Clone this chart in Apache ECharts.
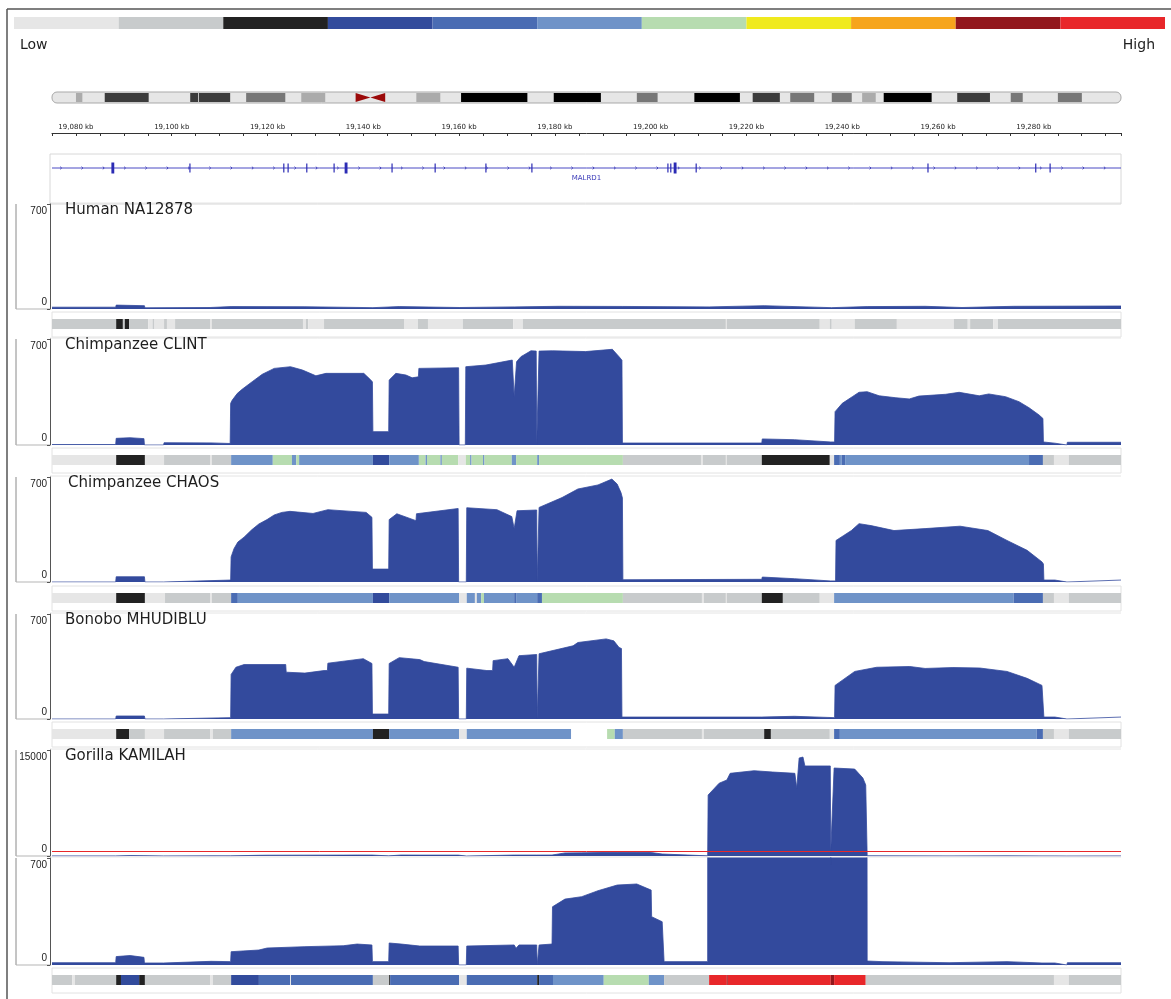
<!DOCTYPE html>
<html>
<head>
<meta charset="utf-8">
<title>MALRD1 coverage</title>
<script src="https://cdn.jsdelivr.net/npm/echarts@6/dist/echarts.min.js"></script>
<style>
  html, body { margin: 0; padding: 0; background: #fff; }
  #chart { width: 1171px; height: 999px; }
</style>
</head>
<body>
<div id="chart"></div>
<script>
// colour scale, low -> high
const levelColors = ['#e6e6e6', '#c8cbcc', '#222222', '#324b9c', '#4a6cb3', '#6f93c8',
                     '#b7dcb0', '#f0ea1e', '#f6a51c', '#92171c', '#e8272a'];

// chr10 ideogram bands [start Mb, end Mb, stain]
const chromLength = 133.8;
const ideogramBands = [
  [3.0, 3.8, 'gpos25'], [6.6, 12.1, 'gpos75'], [17.3, 18.3, 'gpos75'], [18.4, 22.3, 'gpos75'],
  [24.3, 29.2, 'gpos50'], [31.2, 34.2, 'gpos25'], [38.0, 41.7, 'acen'], [45.6, 48.6, 'gpos25'],
  [51.2, 59.5, 'gpos100'], [62.8, 68.7, 'gpos100'], [73.2, 75.8, 'gpos50'], [80.4, 86.1, 'gpos100'],
  [87.7, 91.1, 'gpos75'], [92.4, 95.4, 'gpos50'], [97.6, 100.1, 'gpos50'], [101.4, 103.1, 'gpos25'],
  [104.1, 110.1, 'gpos100'], [113.3, 117.4, 'gpos75'], [120.0, 121.5, 'gpos50'], [125.9, 128.9, 'gpos50']
];
const stainColors = { gpos100: '#000000', gpos75: '#3c3c3c', gpos50: '#777777', gpos25: '#ababab', acen: '#9b0a0a' };

// visible window, kb
const viewStart = 19075, viewEnd = 19298.2;

// gene
const geneName = 'MALRD1';
const geneExons = [
  [19087.4, 19088.0], [19103.7, 19103.9], [19123.3, 19123.5], [19124.2, 19124.4], [19128.1, 19128.3],
  [19133.8, 19134.0], [19136.1, 19136.7], [19145.9, 19146.1], [19154.9, 19155.1], [19165.5, 19165.7],
  [19175.1, 19175.3], [19203.5, 19203.7], [19204.1, 19204.3], [19204.8, 19205.4], [19209.4, 19209.6],
  [19257.8, 19258.0], [19280.3, 19280.5], [19283.3, 19283.5]
];

// read depth [kb, depth]
const human = [
  [19075, 12], [19088.3, 12], [19088.4, 26], [19094.3, 22], [19094.4, 8], [19108.0, 10], [19112.4, 16],
  [19127.8, 15], [19142.0, 9], [19147.5, 16], [19160.0, 10], [19171.5, 14], [19180.9, 18], [19194.2, 17],
  [19212.2, 14], [19223.7, 22], [19237.8, 9], [19245.2, 16], [19257.3, 18], [19265.0, 10], [19275.8, 18], [19298.2, 20]
];
const clint = [
  [19075, 3], [19088.3, 3], [19088.4, 44], [19091.3, 48], [19094.2, 42], [19094.3, 0], [19098.3, 0], [19098.4, 15],
  [19108.2, 14], [19112.2, 10], [19112.3, 275], [19112.65, 297], [19113.7, 341], [19114.7, 368], [19116.8, 418],
  [19118.9, 467], [19121.4, 506], [19124.8, 517], [19127.3, 495], [19130.1, 457], [19132.2, 473], [19140.1, 473],
  [19141.2, 440], [19141.9, 418], [19142.0, 88], [19145.3, 88], [19145.4, 429], [19146.8, 473], [19148.9, 462],
  [19150.2, 444], [19151.5, 450], [19151.6, 506], [19159.9, 510], [19160.0, 0], [19161.3, 0], [19161.4, 517],
  [19165.6, 528], [19171.1, 561], [19171.5, 319], [19172.0, 550], [19172.9, 583], [19175.0, 622], [19176.1, 620],
  [19176.2, 0], [19176.6, 0], [19176.7, 620], [19179.5, 622], [19186.4, 617], [19192.0, 632], [19193.4, 583],
  [19194.0, 560], [19194.1, 13], [19223.2, 13], [19223.3, 40], [19230.0, 35], [19237.6, 20], [19238.4, 20],
  [19238.5, 220], [19240.0, 275], [19242.1, 319], [19243.5, 348], [19245.2, 352], [19247.7, 325], [19251.2, 312],
  [19254.0, 304], [19256.0, 323], [19261.6, 335], [19264.4, 348], [19268.6, 325], [19270.6, 337], [19274.1, 319],
  [19276.9, 286], [19279.0, 246], [19281.1, 198], [19281.9, 175], [19282.0, 20], [19284.4, 12], [19284.5, 0],
  [19286.9, 0], [19287.0, 18], [19298.2, 18]
];
const chaos = [
  [19075, 0], [19088.3, 0], [19088.4, 35], [19094.3, 35], [19094.4, 0], [19098.3, 0], [19098.4, 13], [19112.3, 13],
  [19112.4, 167], [19113.0, 222], [19113.8, 266], [19115.1, 299], [19116.7, 348], [19118.2, 387], [19119.9, 416],
  [19121.4, 447], [19123.0, 464], [19124.7, 471], [19129.5, 457], [19132.6, 482], [19140.6, 464], [19141.8, 431],
  [19141.9, 86], [19145.3, 86], [19145.4, 416], [19147.0, 455], [19151.0, 409], [19151.1, 455], [19159.8, 490],
  [19159.9, 0], [19161.5, 0], [19161.6, 495], [19167.9, 482], [19171.0, 436], [19171.5, 356], [19172.1, 475],
  [19176.2, 480], [19176.3, 0], [19176.6, 0], [19176.7, 497], [19181.5, 563], [19184.8, 620], [19189.0, 647],
  [19191.9, 686], [19193.0, 653], [19193.8, 596], [19194.1, 560], [19194.2, 15], [19223.2, 18], [19223.3, 33],
  [19230.0, 22], [19237.6, 7], [19238.6, 7], [19238.7, 277], [19240.3, 310], [19241.9, 343], [19243.5, 389],
  [19246.0, 376], [19250.8, 343], [19257.3, 356], [19264.6, 372], [19270.4, 343], [19274.4, 277], [19278.6, 211],
  [19281.7, 134], [19282.0, 120], [19282.1, 13], [19284.4, 13], [19284.5, 0], [19286.9, 0], [19287.0, 13], [19298.2, 13]
];
const bonobo = [
  [19075, 0], [19088.3, 0], [19088.4, 20], [19094.3, 20], [19094.4, 0], [19098.3, 0], [19098.4, 9], [19112.3, 9],
  [19112.4, 297], [19113.4, 345], [19115.1, 363], [19123.8, 363], [19123.9, 312], [19127.8, 306], [19131.8, 323],
  [19132.5, 323], [19132.6, 372], [19140.0, 402], [19141.8, 370], [19141.9, 33], [19145.3, 33], [19145.4, 370],
  [19147.5, 409], [19151.8, 396], [19152.7, 383], [19159.8, 345], [19159.9, 0], [19161.5, 0], [19161.6, 339],
  [19165.8, 323], [19167.0, 323], [19167.1, 389], [19170.2, 402], [19171.5, 345], [19172.5, 422], [19176.2, 430],
  [19176.3, 0], [19176.6, 0], [19176.7, 435], [19183.8, 488], [19184.8, 510], [19190.7, 534], [19192.3, 521],
  [19193.4, 477], [19193.9, 470], [19194.0, 13], [19223.2, 13], [19223.3, 22], [19230.0, 18], [19238.4, 9],
  [19238.5, 224], [19242.6, 317], [19247.2, 345], [19254.1, 350], [19257.3, 337], [19263.1, 343], [19268.7, 340],
  [19274.4, 317], [19278.6, 271], [19281.7, 224], [19282.0, 215], [19282.1, 13], [19284.4, 13], [19284.5, 0],
  [19286.9, 0], [19287.0, 13], [19298.2, 13]
];
const gorilla = [
  [19075, 15], [19088.3, 15], [19088.4, 55], [19091.3, 62], [19094.2, 50], [19094.3, 13], [19098.3, 13], [19098.4, 26],
  [19108.2, 24], [19112.3, 22], [19112.4, 87], [19118.2, 98], [19119.9, 111], [19127.8, 120], [19135.8, 126],
  [19138.7, 137], [19141.8, 131], [19141.9, 22], [19145.3, 22], [19145.4, 144], [19147.9, 137], [19151.8, 124],
  [19159.8, 124], [19159.9, 0], [19161.5, 0], [19161.6, 124], [19171.5, 131], [19171.9, 110], [19172.5, 131],
  [19176.2, 131], [19176.3, 0], [19176.6, 0], [19176.7, 131], [19179.4, 137], [19179.5, 381], [19182.1, 431],
  [19185.6, 447], [19189.0, 486], [19193.0, 523], [19197.1, 530], [19200.1, 490], [19200.2, 316], [19202.4, 283],
  [19202.7, 283], [19202.8, 22], [19211.9, 22], [19212.0, 8630], [19214.3, 10300], [19215.9, 10750],
  [19216.6, 11700], [19221.6, 12070], [19225.5, 11880], [19230.1, 11700], [19230.5, 9600], [19231.0, 13870],
  [19231.8, 14000], [19232.2, 12740], [19237.0, 12740], [19237.5, 12740], [19237.6, 660], [19237.7, 660],
  [19238.3, 12450], [19242.6, 12300], [19244.3, 11040], [19244.9, 10050], [19245.1, 10050], [19245.2, 26],
  [19248.3, 22], [19262.3, 15], [19274.4, 22], [19281.7, 13], [19284.4, 13], [19284.5, 0], [19286.9, 0],
  [19287.0, 15], [19298.2, 15]
];

// copy-number strips [start kb, end kb, level] (-1 = blank)
const humanStrip = [
  [19075, 19088.4, 1], [19088.4, 19089.8, 2], [19089.8, 19090.2, 1], [19090.2, 19091.1, 2], [19091.1, 19095.1, 1],
  [19095.1, 19096.0, 0], [19096.0, 19096.4, 1], [19096.4, 19098.4, 0], [19098.4, 19099.0, 1], [19099.0, 19100.7, 0],
  [19100.7, 19108.0, 1], [19108.0, 19108.4, 0], [19108.4, 19127.4, 1], [19127.4, 19128.0, 0], [19128.0, 19128.5, 1],
  [19128.5, 19131.8, 0], [19131.8, 19148.5, 1], [19148.5, 19151.4, 0], [19151.4, 19153.5, 1], [19153.5, 19160.8, 0],
  [19160.8, 19171.3, 1], [19171.3, 19173.3, 0], [19173.3, 19215.7, 1], [19215.7, 19215.9, 0], [19215.9, 19235.3, 1],
  [19235.3, 19237.4, 0], [19237.4, 19237.8, 1], [19237.8, 19242.6, 0], [19242.6, 19251.4, 1], [19251.4, 19263.3, 0],
  [19263.3, 19266.2, 1], [19266.2, 19266.7, 0], [19266.7, 19271.5, 1], [19271.5, 19272.5, 0], [19272.5, 19298.2, 1]
];
const clintStrip = [
  [19075, 19088.4, 0], [19088.4, 19094.4, 2], [19094.4, 19098.4, 0], [19098.4, 19108.0, 1], [19108.0, 19108.4, 0],
  [19108.4, 19112.4, 1], [19112.4, 19121.1, 5], [19121.1, 19125.1, 6], [19125.1, 19126.0, 5], [19126.0, 19126.6, 6],
  [19126.6, 19142.0, 5], [19142.0, 19145.4, 3], [19145.4, 19151.6, 5], [19151.6, 19153.0, 6], [19153.0, 19153.3, 5],
  [19153.3, 19156.1, 6], [19156.1, 19156.4, 5], [19156.4, 19159.8, 6], [19159.8, 19161.4, 0], [19161.4, 19162.3, 6],
  [19162.3, 19162.6, 5], [19162.6, 19165.0, 6], [19165.0, 19165.3, 5], [19165.3, 19171.0, 6], [19171.0, 19171.9, 5],
  [19171.9, 19176.3, 6], [19176.3, 19176.7, 5], [19176.7, 19194.2, 6], [19194.2, 19210.5, 1], [19210.5, 19210.9, 0],
  [19210.9, 19215.7, 1], [19215.7, 19215.9, 0], [19215.9, 19223.2, 1], [19223.2, 19237.4, 2], [19237.4, 19238.3, 0],
  [19238.3, 19239.5, 4], [19239.5, 19239.9, 5], [19239.9, 19240.6, 4], [19240.6, 19279.0, 5], [19279.0, 19281.9, 4],
  [19281.9, 19284.2, 1], [19284.2, 19287.3, 0], [19287.3, 19298.2, 1]
];
const chaosStrip = [
  [19075, 19088.4, 0], [19088.4, 19094.4, 2], [19094.4, 19098.6, 0], [19098.6, 19108.0, 1], [19108.0, 19108.4, 0],
  [19108.4, 19112.4, 1], [19112.4, 19113.8, 4], [19113.8, 19142.0, 5], [19142.0, 19145.4, 3], [19145.4, 19160.0, 5],
  [19160.0, 19161.6, 0], [19161.6, 19163.3, 5], [19163.3, 19163.7, 0], [19163.7, 19164.6, 5], [19164.6, 19165.2, 6],
  [19165.2, 19171.5, 5], [19171.5, 19171.9, 4], [19171.9, 19176.3, 5], [19176.3, 19177.3, 4], [19177.3, 19194.2, 6],
  [19194.2, 19210.7, 1], [19210.7, 19211.1, 0], [19211.1, 19215.7, 1], [19215.7, 19215.9, 0], [19215.9, 19223.2, 1],
  [19223.2, 19227.6, 2], [19227.6, 19235.3, 1], [19235.3, 19238.3, 0], [19238.3, 19275.8, 5], [19275.8, 19281.9, 4],
  [19281.9, 19284.2, 1], [19284.2, 19287.3, 0], [19287.3, 19298.2, 1]
];
const bonoboStrip = [
  [19075, 19088.4, 0], [19088.4, 19091.1, 2], [19091.1, 19094.4, 1], [19094.4, 19098.4, 0], [19098.4, 19108.0, 1],
  [19108.0, 19108.6, 0], [19108.6, 19112.4, 1], [19112.4, 19142.0, 5], [19142.0, 19145.4, 2], [19145.4, 19160.0, 5],
  [19160.0, 19161.6, 0], [19161.6, 19183.4, 5], [19183.4, 19190.9, -1], [19190.9, 19192.5, 6], [19192.5, 19194.2, 5],
  [19194.2, 19210.7, 1], [19210.7, 19211.1, 0], [19211.1, 19223.7, 1], [19223.7, 19225.1, 2], [19225.1, 19237.4, 1],
  [19237.4, 19238.3, 0], [19238.3, 19239.5, 4], [19239.5, 19280.6, 5], [19280.6, 19281.9, 4], [19281.9, 19284.2, 1],
  [19284.2, 19287.3, 0], [19287.3, 19298.2, 1]
];
const gorillaStrip = [
  [19075, 19079.2, 1], [19079.2, 19079.8, 0], [19079.8, 19088.4, 1], [19088.4, 19089.4, 2], [19089.4, 19093.2, 3],
  [19093.2, 19094.4, 2], [19094.4, 19108.0, 1], [19108.0, 19108.6, 0], [19108.6, 19112.4, 1], [19112.4, 19118.2, 3],
  [19118.2, 19124.7, 4], [19124.7, 19124.9, 0], [19124.9, 19142.0, 4], [19142.0, 19145.4, 1], [19145.4, 19145.6, 2],
  [19145.6, 19160.0, 4], [19160.0, 19161.6, 0], [19161.6, 19176.3, 4], [19176.3, 19176.7, 2], [19176.7, 19179.6, 4],
  [19179.6, 19190.2, 5], [19190.2, 19199.6, 6], [19199.6, 19202.8, 5], [19202.8, 19212.2, 1], [19212.2, 19215.9, 10],
  [19215.9, 19216.1, 9], [19216.1, 19237.6, 10], [19237.6, 19238.3, 9], [19238.3, 19244.9, 10], [19244.9, 19284.2, 1],
  [19284.2, 19287.3, 0], [19287.3, 19298.2, 1]
];

const tracks = [
  { name: 'Human NA12878', data: human, max: 700 },
  { name: 'Chimpanzee CLINT', data: clint, max: 700 },
  { name: 'Chimpanzee CHAOS', data: chaos, max: 700, nameX: 68 },
  { name: 'Bonobo MHUDIBLU', data: bonobo, max: 700 },
  { name: 'Gorilla KAMILAH', data: gorilla, max: 15000, threshold: 700 },
  { name: '', data: gorilla, max: 700 }
];
const strips = [humanStrip, clintStrip, chaosStrip, bonoboStrip, gorillaStrip];

// layout
const trackTops = [204, 339, 477, 614, 750, 858];
const trackHeights = [105, 106, 105, 105, 106, 107];
const stripTops = [319, 455, 593, 729, 975];
const covColor = '#334a9d';
const font = 'DejaVu Sans';

const myChart = echarts.init(document.getElementById('chart'));
const grids = [], xAxes = [], yAxes = [], series = [], graphics = [];

function addGrid(grid, x, y) {
    grids.push(grid);
    const i = grids.length - 1;
    xAxes.push(Object.assign({ gridIndex: i }, x));
    yAxes.push(Object.assign({ gridIndex: i }, y));
    return i;
}
const hiddenX = { type: 'value', min: viewStart, max: viewEnd, show: false };
const hiddenY = { type: 'value', min: 0, max: 1, show: false };

// colour legend
const gLegend = addGrid({ left: 14, right: 6, top: 17, height: 12 },
    { type: 'category', data: levelColors.map((c, i) => i), show: false },
    { type: 'value', min: 0, max: 1, show: false });
series.push({
    type: 'bar', xAxisIndex: gLegend, yAxisIndex: gLegend, barCategoryGap: '0%', silent: true,
    data: levelColors.map(c => ({ value: 1, itemStyle: { color: c } }))
});

// ideogram
const gIdeo = addGrid({ left: 52, right: 50, top: 92, height: 11 },
    { type: 'value', min: 0, max: chromLength, show: false }, hiddenY);
const ideoBody = stroke => (params) => {
    const cs = params.coordSys;
    return {
        type: 'rect', shape: { x: cs.x, y: cs.y, width: cs.width, height: cs.height, r: 5 },
        style: stroke ? { fill: null, stroke: '#a9a9a9', lineWidth: 1 } : { fill: '#e6e6e6' }
    };
};
series.push({ type: 'custom', xAxisIndex: gIdeo, yAxisIndex: gIdeo, data: [[0, chromLength]], encode: { x: [0, 1] }, renderItem: ideoBody(false), silent: true });
series.push({
    type: 'custom', xAxisIndex: gIdeo, yAxisIndex: gIdeo, data: ideogramBands, encode: { x: [0, 1] }, silent: true,
    renderItem: function (params, api) {
        const cs = params.coordSys;
        const x0 = api.coord([api.value(0), 0])[0];
        const x1 = api.coord([api.value(1), 0])[0];
        const stain = ideogramBands[params.dataIndex][2];
        const y = cs.y + 1, h = cs.height - 2;
        if (stain === 'acen') {
            const xm = (x0 + x1) / 2;
            return {
                type: 'group', children: [
                    { type: 'polygon', shape: { points: [[x0, y], [x0, y + h], [xm, y + h / 2]] }, style: { fill: stainColors.acen } },
                    { type: 'polygon', shape: { points: [[x1, y], [x1, y + h], [xm, y + h / 2]] }, style: { fill: stainColors.acen } }
                ]
            };
        }
        return { type: 'rect', shape: { x: x0, y: y, width: x1 - x0, height: h }, style: { fill: stainColors[stain] } };
    }
});
series.push({ type: 'custom', xAxisIndex: gIdeo, yAxisIndex: gIdeo, data: [[0, chromLength]], encode: { x: [0, 1] }, renderItem: ideoBody(true), silent: true });

// ruler
addGrid({ left: 52, right: 50, top: 133, height: 6 },
    {
        type: 'value', min: viewStart, max: viewEnd, interval: 5, position: 'top',
        axisLine: { onZero: false, lineStyle: { color: '#333', width: 1 } },
        axisTick: { inside: true, length: 3, lineStyle: { color: '#333' } },
        splitLine: { show: false },
        axisLabel: {
            interval: 0, margin: 2, fontSize: 7, fontFamily: font, color: '#222',
            formatter: function (v) {
                const k = Math.round(v);
                return k % 20 === 0 ? k.toLocaleString('en-US') + ' kb' : '';
            }
        }
    }, hiddenY);

// gene track
const gGene = addGrid({ left: 52, right: 50, top: 154, height: 50 }, hiddenX, hiddenY);
series.push({
    type: 'custom', xAxisIndex: gGene, yAxisIndex: gGene, data: [[viewStart, viewEnd]], encode: { x: [0, 1] }, silent: true,
    renderItem: function (params, api) {
        const cs = params.coordSys;
        const x0 = Math.max(api.coord([api.value(0), 0])[0], cs.x);
        const x1 = Math.min(api.coord([api.value(1), 0])[0], cs.x + cs.width);
        const y = cs.y + 14;
        const kids = [{ type: 'line', shape: { x1: x0, y1: y, x2: x1, y2: y }, style: { stroke: '#4a4ac4', lineWidth: 1 } }];
        for (let x = x0 + 9; x < x1 - 2; x += 21.3) {
            kids.push({ type: 'polyline', shape: { points: [[x - 0.8, y - 1.3], [x + 0.6, y], [x - 0.8, y + 1.3]] }, style: { stroke: '#3a3ab8', lineWidth: 0.9, fill: null } });
        }
        kids.push({ type: 'text', x: (x0 + x1) / 2, y: y + 10.5, style: { text: geneName, fill: '#3a3ab8', fontSize: 7, fontFamily: font, align: 'center', verticalAlign: 'middle' } });
        return { type: 'group', children: kids };
    }
});
series.push({
    type: 'custom', xAxisIndex: gGene, yAxisIndex: gGene, data: geneExons, encode: { x: [0, 1] }, silent: true,
    renderItem: function (params, api) {
        const cs = params.coordSys;
        const a = api.coord([api.value(0), 0])[0];
        const b = api.coord([api.value(1), 0])[0];
        const thick = api.value(1) - api.value(0) > 0.4;
        const h = thick ? 11 : 9;
        const w = Math.max(b - a, 1.2);
        return { type: 'rect', shape: { x: (a + b) / 2 - w / 2, y: cs.y + 14 - h / 2, width: w, height: h }, style: { fill: '#2b2bb4' } };
    }
});

// coverage tracks
tracks.forEach(function (t, i) {
    const g = addGrid({ left: 52, right: 50, top: trackTops[i], height: trackHeights[i] }, hiddenX, {
        type: 'value', min: 0, max: t.max, interval: t.max, offset: 2,
        axisLine: { show: true, lineStyle: { color: '#555', width: 1 } },
        axisTick: { show: true, length: 3, lineStyle: { color: '#555' } },
        splitLine: { show: false },
        axisLabel: {
            margin: 3, color: '#222',
            formatter: v => v === 0 ? '{b|0}' : '{t|' + v + '}',
            rich: {
                t: { fontSize: 10, fontFamily: 'Liberation Sans', color: '#222', padding: [14, 0, 0, 0] },
                b: { fontSize: 10, fontFamily: 'Liberation Sans', color: '#222', padding: [0, 0, 14, 0] }
            }
        }
    });
    const s = {
        type: 'line', xAxisIndex: g, yAxisIndex: g, data: t.data, showSymbol: false, symbol: 'none',
        clip: true, silent: true,
        lineStyle: { width: 0.8, color: covColor },
        areaStyle: { color: covColor, opacity: 1 }
    };
    if (t.threshold) {
        s.markLine = {
            silent: true, symbol: 'none', label: { show: false },
            lineStyle: { color: '#e8272a', width: 1, type: 'solid' },
            data: [{ yAxis: t.threshold }]
        };
    }
    series.push(s);

    const top = trackTops[i], bottom = trackTops[i] + trackHeights[i];
    graphics.push({ type: 'line', shape: { x1: 16, y1: top, x2: 16, y2: bottom }, style: { stroke: '#8a8a8a', lineWidth: 1 }, silent: true });
    graphics.push({ type: 'line', shape: { x1: 16, y1: bottom, x2: 50, y2: bottom }, style: { stroke: '#b5b5b5', lineWidth: 1 }, silent: true });
    graphics.push({ type: 'line', shape: { x1: 50, y1: top - 1, x2: 1121, y2: top - 1 }, style: { stroke: '#e4e4e4', lineWidth: 1 }, silent: true });
    if (t.name) {
        graphics.push({
            type: 'text', x: t.nameX || 65, y: top + 6, z: 10,
            style: { text: t.name, fill: '#1e1e1e', fontSize: 15, fontFamily: font, verticalAlign: 'middle' }
        });
    }
});

// strips
const renderSegment = function (params, api) {
    const cs = params.coordSys;
    const a = api.coord([api.value(0), 0])[0];
    const b = api.coord([api.value(1), 0])[0];
    const x0 = Math.max(a, cs.x), x1 = Math.min(b, cs.x + cs.width);
    if (x1 <= x0) return null;
    const lvl = api.value(2);
    return { type: 'rect', shape: { x: x0, y: cs.y, width: x1 - x0, height: cs.height }, style: { fill: lvl < 0 ? '#ffffff' : levelColors[lvl] } };
};
strips.forEach(function (s, i) {
    const g = addGrid({ left: 52, right: 50, top: stripTops[i], height: 10 }, hiddenX, hiddenY);
    series.push({ type: 'custom', xAxisIndex: g, yAxisIndex: g, data: s, encode: { x: [0, 1] }, renderItem: renderSegment, silent: true });
    graphics.push({ type: 'rect', shape: { x: 52, y: stripTops[i] - 7, width: 1069, height: 25 }, style: { fill: null, stroke: '#e2e2e2', lineWidth: 1 }, silent: true });
});

// frame and labels
graphics.push({ type: 'line', shape: { x1: 7, y1: 9, x2: 1171, y2: 9 }, style: { stroke: '#555', lineWidth: 1.5 }, silent: true });
graphics.push({ type: 'line', shape: { x1: 7, y1: 9, x2: 7, y2: 999 }, style: { stroke: '#555', lineWidth: 1.5 }, silent: true });
graphics.push({ type: 'rect', shape: { x: 50, y: 154, width: 1071, height: 50 }, style: { fill: null, stroke: '#d8d8d8', lineWidth: 1 }, silent: true });
graphics.push({ type: 'text', x: 20, y: 45, style: { text: 'Low', fill: '#1e1e1e', fontSize: 14, fontFamily: font, verticalAlign: 'middle' } });
graphics.push({ type: 'text', x: 1155, y: 45, style: { text: 'High', fill: '#1e1e1e', fontSize: 14, fontFamily: font, align: 'right', verticalAlign: 'middle' } });

const option = {
    animation: false,
    backgroundColor: '#ffffff',
    grid: grids,
    xAxis: xAxes,
    yAxis: yAxes,
    series: series,
    graphic: graphics
};
myChart.setOption(option);
</script>
</body>
</html>
